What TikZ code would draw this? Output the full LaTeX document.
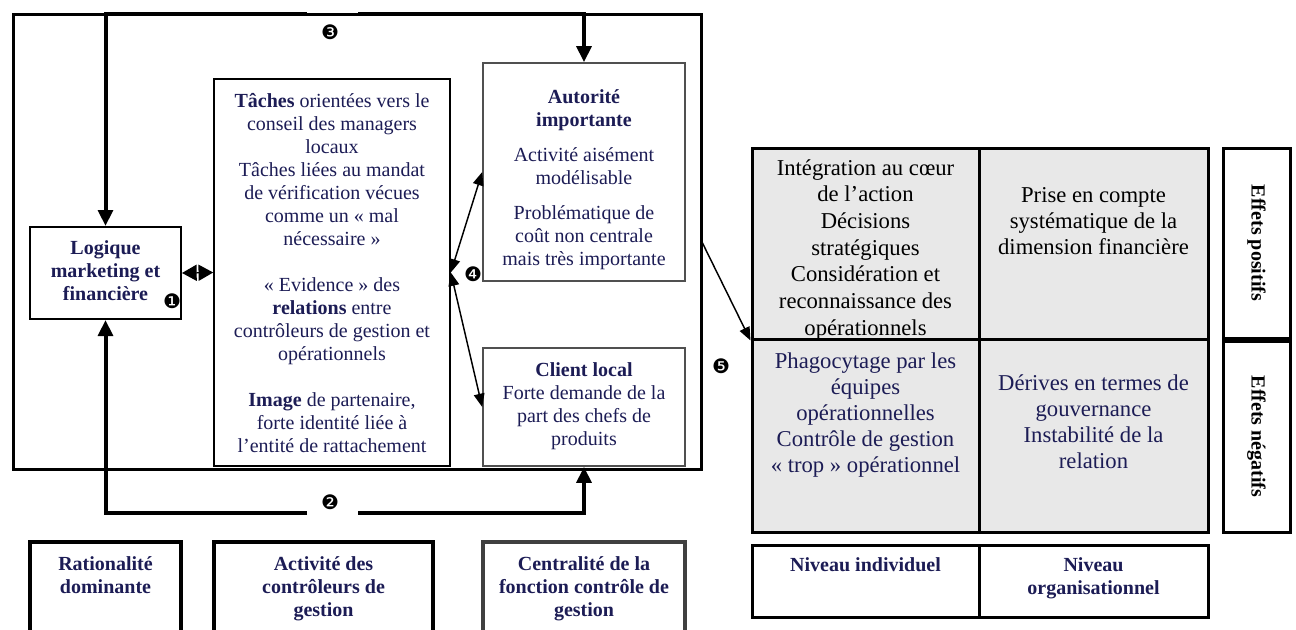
\documentclass[tikz,border=0pt]{standalone}
\usepackage{fontspec}
\setmainfont{Liberation Serif}
\newfontfamily\dejavu{DejaVu Sans}
\usetikzlibrary{arrows.meta}
\definecolor{navy}{RGB}{28,28,85}
\definecolor{cellgray}{RGB}{232,232,232}
\definecolor{boxgray}{RGB}{80,80,80}
\definecolor{darkgray}{RGB}{64,64,64}
\tikzset{
  box/.style={draw, line width=1.5pt, inner sep=0pt},
  thinbox/.style={draw=boxgray, line width=1.2pt, inner sep=0pt},
  cell/.style={draw, line width=2.25pt, fill=cellgray, inner sep=0pt},
  labbox/.style={draw, line width=2.25pt, inner sep=0pt},
  botbox/.style={draw, line width=3pt, inner sep=0pt},
  txt/.style={inner sep=0pt, align=center, text=navy, font=\fontsize{15}{17.25}\selectfont},
  btxt/.style={txt, font=\fontsize{15}{17.25}\selectfont\bfseries},
  ctxt/.style={inner sep=0pt, align=center, font=\fontsize{17}{19.5}\selectfont},
  num/.style={inner sep=0pt, font=\dejavu\fontsize{15}{15}\selectfont},
  loopline/.style={line width=3pt, -{Triangle[length=12pt,width=11pt]}},
  thinarrow/.style={line width=1.1pt, -{Triangle[length=10pt,width=8pt]}},
  bothtip/.style={line width=1.1pt, {Triangle[length=10pt,width=8pt]}-{Triangle[length=10pt,width=8pt]}},
}
\begin{document}
\begin{tikzpicture}[x=0.75pt,y=-0.75pt]
\clip (0,0) rectangle (1296,629);
\fill[white] (0,0) rectangle (1296,629);

% outer frame
\node[draw, line width=2.25pt, minimum width=516pt, minimum height=341.25pt, inner sep=0pt] (frame) at (357,241.5) {};

% boxes of the left part
\node[box, minimum width=113.25pt, minimum height=69pt] (logique) at (105.5,273) {};
\node[draw, line width=1.2pt, inner sep=0pt, minimum width=177pt, minimum height=290.25pt] (taches) at (332,272.5) {};
\node[thinbox, minimum width=151.5pt, minimum height=163.5pt] (autorite) at (584,172) {};
\node[thinbox, minimum width=151.5pt, minimum height=88.5pt] (client) at (584,407) {};

% loops 3 and 2
\coordinate (t3l) at (307,14);
\coordinate (t3r) at (358,14);
\coordinate (b2l) at (307,513);
\coordinate (b2r) at (358,513);
\draw[loopline] (t3l) -| (logique.north);
\draw[loopline] (t3r) -| (autorite.north);
\draw[loopline] (b2l) -| (logique.south);
\draw[loopline] (b2r) -| (client.south);

% texts of the left part
\node[btxt, anchor=north] (tlog) at (105.5,240) {Logique\\marketing et\\financière};
\node[txt, anchor=north] (ttach) at (332,93) {\textbf{Tâches} orientées vers le\\conseil des managers\\locaux\\Tâches liées au mandat\\de vérification vécues\\comme un «~mal\\nécessaire~»\\[17.25pt]«~Evidence~» des\\\textbf{relations} entre\\contrôleurs de gestion et\\opérationnels\\[17.25pt]\textbf{Image} de partenaire,\\forte identité liée à\\l’entité de rattachement};
\node[txt, anchor=north] (taut) at (584,89) {\textbf{Autorité}\\\textbf{importante}\\[9pt]Activité aisément\\modélisable\\[9pt]Problématique de\\coût non centrale\\mais très importante};
\node[txt, anchor=north] (tcli) at (584,362) {\textbf{Client local}\\Forte demande de la\\part des chefs de\\produits};

% connectors between the boxes
\draw[line width=1.1pt, {Triangle[length=11pt,width=12pt]}-{Triangle[length=11pt,width=12pt]}] (logique.east) -- (taches.west);
\draw[bothtip] (taches.east) -- (autorite.west);
\draw[bothtip] (taches.east) -- (client.west);

% numbers
\node[num] (n1) at (172,301) {❶};
\node[num] (n2) at (330,502) {❷};
\node[num] (n3) at (330,32) {❸};
\node[num] (n4) at (473,274) {❹};
\node[num] (n5) at (721,366) {❺};

% right grid
\node[cell, minimum width=170.25pt, minimum height=143.25pt] (c11) at (865.5,243.5) {};
\node[cell, minimum width=171.75pt, minimum height=143.25pt] (c12) at (1093.5,243.5) {};
\node[ctxt, font=\fontsize{17}{20}\selectfont, anchor=north] (tc11) at (865.5,159) {Intégration au cœur\\de l’action\\Décisions\\stratégiques\\Considération et\\reconnaissance des\\opérationnels};
\node[ctxt, anchor=north] (tc12) at (1093.5,187) {Prise en compte\\systématique de la\\dimension financière};
\node[cell, minimum width=170.25pt, minimum height=144.75pt] (c21) at (865.5,435.5) {};
\node[cell, minimum width=171.75pt, minimum height=144.75pt] (c22) at (1093.5,435.5) {};
\node[ctxt, text=navy, anchor=north] (tc21) at (865.5,352) {Phagocytage par les\\équipes\\opérationnelles\\Contrôle de gestion\\«~trop~» opérationnel};
\node[ctxt, text=navy, anchor=north] (tc22) at (1093.5,374) {Dérives en termes de\\gouvernance\\Instabilité de la\\relation};

% arrow 5
\coordinate (f5) at (701,240);
\draw[thinarrow] (f5) -- (c11.south west);

% effects column
\node[labbox, minimum width=50.25pt, minimum height=142.5pt] (ep) at (1256.5,243) {};
\node[labbox, minimum width=50.25pt, minimum height=143.25pt] (en) at (1256.5,436.5) {};
\node[inner sep=0pt, rotate=-90, font=\fontsize{15}{17}\selectfont\bfseries] (tep) at (ep.center) {Effets positifs};
\node[inner sep=0pt, rotate=-90, font=\fontsize{15}{17}\selectfont\bfseries] (ten) at (en.center) {Effets négatifs};

% levels
\node[labbox, minimum width=170.25pt, minimum height=54pt] (ni) at (865.5,581) {};
\node[labbox, minimum width=171.75pt, minimum height=54pt] (no) at (1093.5,581) {};
\node[btxt, anchor=north] (tni) at (865.5,557) {Niveau individuel};
\node[btxt, anchor=north] (tno) at (1093.5,557) {Niveau\\organisationnel};

% bottom labels of the left part
\node[botbox, minimum width=113.25pt, minimum height=88.5pt] (rat) at (105.5,601) {};
\node[botbox, minimum width=164.25pt, minimum height=88.5pt] (act) at (323.5,601) {};
\node[botbox, draw=darkgray, minimum width=151.5pt, minimum height=88.5pt] (cen) at (584,601) {};
\node[btxt, anchor=north] (trat) at (105.5,556) {Rationalité\\dominante};
\node[btxt, anchor=north] (tact) at (323.5,556) {Activité des\\contrôleurs de\\gestion};
\node[btxt, anchor=north] (tcen) at (584,556) {Centralité de la\\fonction contrôle de\\gestion};
\end{tikzpicture}
\end{document}
